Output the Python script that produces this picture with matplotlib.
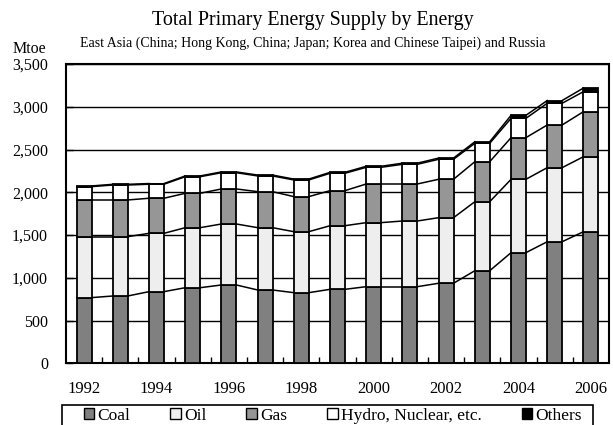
import numpy as np
import matplotlib
matplotlib.use('Agg')
import matplotlib.pyplot as plt
from matplotlib.patches import Patch, Rectangle

years = [1992, 1993, 1994, 1995, 1996, 1997, 1998, 1999,
         2000, 2001, 2002, 2003, 2004, 2005, 2006]
coal = [768, 787, 838, 884, 916, 857, 826, 865, 896, 896, 936, 1083, 1294, 1422, 1539]
oil = [713, 694, 682, 702, 713, 729, 713, 744, 749, 768, 767, 807, 858, 866, 877]
gas = [429, 429, 410, 402, 410, 421, 410, 410, 452, 433, 449, 468, 487, 499, 527]
hydro = [156, 175, 164, 194, 190, 184, 195, 203, 195, 230, 234, 215, 226, 254, 234]
others = [8, 8, 8, 9, 9, 10, 10, 11, 12, 13, 14, 18, 35, 32, 42]

series = [("Coal", coal, "#808080"),
          ("Oil", oil, "#eeeeee"),
          ("Gas", gas, "#969696"),
          ("Hydro, Nuclear, etc.", hydro, "#ffffff"),
          ("Others", others, "#000000")]

plt.rcParams['font.family'] = ['Liberation Serif', 'DejaVu Serif']

fig = plt.figure(figsize=(6.13, 4.25), dpi=100)
ax = fig.add_axes([0.1077, 0.1452, 0.8858, 0.7042])

x = np.arange(len(years))
w = 0.41
bottom = np.zeros(len(years))
handles = []
for name, vals, col in series:
    vals = np.array(vals, dtype=float)
    ax.bar(x, vals, w, bottom=bottom, color=col, edgecolor='black', linewidth=1.3, zorder=3)
    top = bottom + vals
    # series lines between bars
    for i in range(len(years) - 1):
        ax.plot([x[i] + w / 2, x[i + 1] - w / 2], [top[i], top[i + 1]],
                color='black', lw=1.1, zorder=2)
    bottom = top
    handles.append(Patch(facecolor=col, edgecolor='black', linewidth=1.0, label=name))

ax.set_xlim(-0.5, len(years) - 0.5)
ax.set_ylim(0, 3500)
ax.set_yticks(np.arange(0, 3501, 500))
ax.set_yticklabels([f"{v:,}" for v in range(0, 3501, 500)], fontsize=11.5)
ax.yaxis.grid(True, color='black', lw=1.0, zorder=0)
ax.set_axisbelow(True)
ax.tick_params(axis='y', direction='in', length=5, width=1.0, pad=13)

ax.set_xticks(x[::2])
ax.set_xticklabels([str(y) for y in years[::2]], fontsize=12)
ax.set_xticks(x[:-1] + 0.5, minor=True)
ax.tick_params(axis='x', which='major', length=0, pad=13)
ax.tick_params(axis='x', which='minor', direction='in', length=4, width=1.0)

for s in ax.spines.values():
    s.set_linewidth(1.5)

fig.text(0.51, 0.951, "Total Primary Energy Supply by Energy", ha='center', va='center', fontsize=14.4)
fig.text(0.51, 0.899, "East Asia (China; Hong Kong, China; Japan; Korea and Chinese Taipei) and Russia",
         ha='center', va='center', fontsize=10)
fig.text(0.021, 0.885, "Mtoe", ha='left', va='center', fontsize=11.5)

# legend box runs off the bottom edge like the original
fig.patches.append(Rectangle((0.101, -0.05), 0.866, 0.097, transform=fig.transFigure,
                             facecolor='white', edgecolor='black', linewidth=1.2, zorder=1))
leg = fig.legend(handles=handles, loc='upper left', bbox_to_anchor=(0.128, 0.053, 0.83, 0.0),
                 mode='expand', ncol=5, frameon=False, fontsize=12.5,
                 handlelength=0.6, handleheight=0.6, handletextpad=0.2, borderpad=0.3,
                 columnspacing=1.0, borderaxespad=0)
leg.set_zorder(2)

fig.savefig("out.png", dpi=100)
